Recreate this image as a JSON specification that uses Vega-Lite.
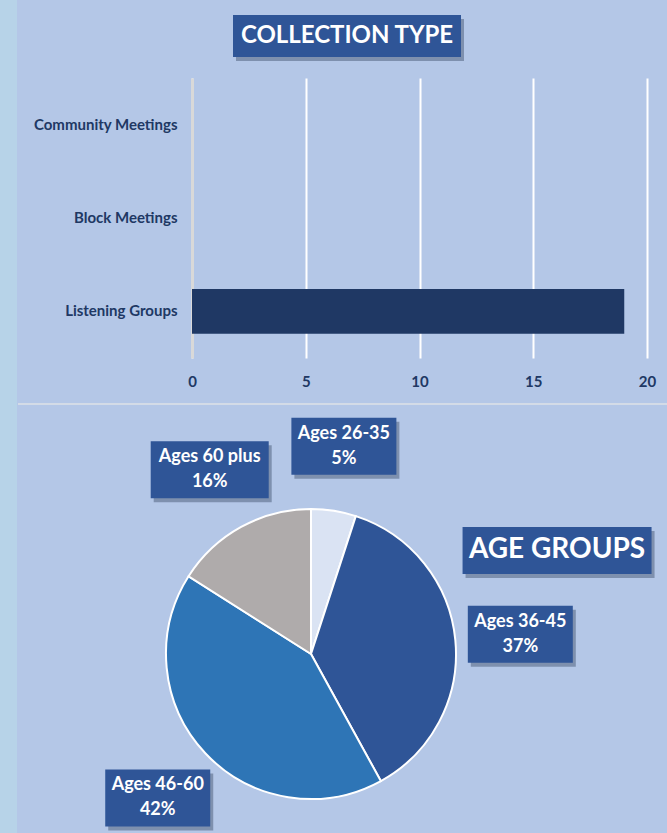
{
  "$schema": "https://vega.github.io/schema/vega-lite/v6.json",
  "background": "#b4c7e7",
  "padding": 0,
  "spacing": 0,
  "config": {"view": {"stroke": null}, "font": "Lato"},
  "datasets": {
    "collection": [
      {"type": "Community Meetings", "count": 0},
      {"type": "Block Meetings", "count": 0},
      {"type": "Listening Groups", "count": 19}
    ],
    "ages": [
      {"age": "Ages 26-35", "pct": 5},
      {"age": "Ages 36-45", "pct": 37},
      {"age": "Ages 46-60", "pct": 42},
      {"age": "Ages 60 plus", "pct": 16}
    ]
  },
  "hconcat": [
    {
      "width": 17,
      "height": 833,
      "view": {"fill": "#b7d3e8", "stroke": null},
      "data": {"values": [{"k": 1}]},
      "mark": {"type": "text", "text": ""},
      "encoding": {}
    },
    {
      "spacing": 6,
      "vconcat": [
        {
          "width": 310,
          "height": 72,
          "data": {"values": [{"title": "COLLECTION TYPE"}]},
          "layer": [
            {
              "mark": {"type": "point", "shape": "M-1,-0.1842L1,-0.1842L1,0.1842L-1,0.1842Z", "size": 51984, "filled": true, "color": "#1a2a45", "opacity": 0.35, "strokeWidth": 0, "xOffset": 3, "yOffset": 4},
              "encoding": {}
            },
            {
              "mark": {"type": "point", "shape": "M-1,-0.1842L1,-0.1842L1,0.1842L-1,0.1842Z", "size": 51984, "filled": true, "color": "#2f5597", "opacity": 1, "strokeWidth": 0},
              "encoding": {}
            },
            {
              "mark": {"type": "text", "font": "Lato", "fontWeight": "bold", "fontSize": 24, "color": "white", "baseline": "middle", "align": "center"},
              "encoding": {"text": {"field": "title", "type": "nominal"}}
            }
          ]
        },
        {
          "width": 455,
          "height": 280,
          "data": {"name": "collection"},
          "mark": {"type": "bar", "color": "#1f3864"},
          "encoding": {
            "y": {
              "field": "type",
              "type": "nominal",
              "sort": ["Community Meetings", "Block Meetings", "Listening Groups"],
              "scale": {"paddingInner": 0.52, "paddingOuter": 0.26},
              "axis": {"title": null, "labelFont": "Lato", "labelFontWeight": "bold", "labelFontSize": 15, "labelColor": "#203864", "labelPadding": 15, "ticks": false, "domainColor": "#d9d9d9", "domainWidth": 3, "minExtent": 174, "maxExtent": 174, "labelLimit": 200}
            },
            "x": {
              "field": "count",
              "type": "quantitative",
              "scale": {"domain": [0, 20], "nice": false},
              "axis": {"title": null, "values": [0, 5, 10, 15, 20], "grid": true, "gridColor": "white", "gridWidth": 2, "domain": false, "ticks": false, "tickSize": 0, "labelPadding": 16, "labelFlush": false, "labelFont": "Lato", "labelFontWeight": "bold", "labelFontSize": 15, "labelColor": "#203864", "minExtent": 39, "maxExtent": 39}
            }
          }
        },
        {
          "width": 476,
          "height": 430,
          "layer": [
            {
              "data": {"values": [{"k": 1}]},
              "mark": {"type": "rule", "color": "#d3dbe7", "strokeWidth": 2},
              "encoding": {
                "x": {"datum": -2.0207, "type": "quantitative", "scale": {"domain": [-0.8207, 2.4621], "nice": false, "zero": false}, "axis": null},
                "x2": {"datum": 2.4621},
                "y": {"datum": 1.7241, "type": "quantitative", "scale": {"domain": [-1.2414, 1.7241], "nice": false, "zero": false}, "axis": null}
              }
            },
            {
              "data": {"name": "ages"},
              "mark": {"type": "arc", "radius": 145, "stroke": "white", "strokeWidth": 2},
              "encoding": {
                "theta": {"field": "pct", "type": "quantitative", "stack": true},
                "color": {"field": "age", "type": "nominal", "scale": {"domain": ["Ages 26-35", "Ages 36-45", "Ages 46-60", "Ages 60 plus"], "range": ["#dae3f3", "#2f5597", "#2e75b6", "#afabab"]}, "legend": null},
                "x": {"datum": 0, "type": "quantitative", "scale": {"domain": [-0.8207, 2.4621], "nice": false, "zero": false}, "axis": null},
                "y": {"datum": 0, "type": "quantitative", "scale": {"domain": [-1.2414, 1.7241], "nice": false, "zero": false}, "axis": null}
              }
            },
            {
              "data": {"name": "ages"},
              "transform": [
                {"window": [{"op": "sum", "field": "pct", "as": "cum"}], "sort": [{"field": "age", "order": "ascending"}]},
                {"joinaggregate": [{"op": "sum", "field": "pct", "as": "total"}]},
                {"calculate": "2*PI*(datum.cum - datum.pct/2)/datum.total", "as": "mid"},
                {"calculate": "1.45*sin(datum.mid)", "as": "lx"},
                {"calculate": "1.45*cos(datum.mid)", "as": "ly"},
                {"calculate": "datum.age + '\\n' + datum.pct + '%'", "as": "label"}
              ],
              "encoding": {
                "x": {"field": "lx", "type": "quantitative", "scale": {"domain": [-0.8207, 2.4621], "nice": false, "zero": false}, "axis": null},
                "y": {"field": "ly", "type": "quantitative", "scale": {"domain": [-1.2414, 1.7241], "nice": false, "zero": false}, "axis": null}
              },
              "layer": [
                {
                  "mark": {"type": "point", "filled": true, "color": "#1a2a45", "opacity": 0.35, "strokeWidth": 0, "xOffset": 3, "yOffset": 4},
                  "encoding": {
                    "shape": {"condition": {"test": "datum.age === 'Ages 60 plus'", "value": "M-1,-0.483L1,-0.483L1,0.483L-1,0.483Z"}, "value": "M-1,-0.543L1,-0.543L1,0.543L-1,0.543Z"},
                    "size": {"condition": {"test": "datum.age === 'Ages 60 plus'", "value": 13924}, "value": 11025}
                  }
                },
                {
                  "mark": {"type": "point", "filled": true, "color": "#2f5597", "opacity": 1, "strokeWidth": 0},
                  "encoding": {
                    "shape": {"condition": {"test": "datum.age === 'Ages 60 plus'", "value": "M-1,-0.483L1,-0.483L1,0.483L-1,0.483Z"}, "value": "M-1,-0.543L1,-0.543L1,0.543L-1,0.543Z"},
                    "size": {"condition": {"test": "datum.age === 'Ages 60 plus'", "value": 13924}, "value": 11025}
                  }
                },
                {
                  "mark": {"type": "text", "font": "Lato", "fontWeight": "bold", "fontSize": 18, "color": "white", "align": "center", "baseline": "middle", "lineBreak": "\n", "lineHeight": 25, "dy": -12.5},
                  "encoding": {"text": {"field": "label", "type": "nominal"}}
                }
              ]
            },
            {
              "data": {"values": [{"title": "AGE GROUPS"}]},
              "encoding": {
                "x": {"datum": 1.697, "type": "quantitative", "scale": {"domain": [-0.8207, 2.4621], "nice": false, "zero": false}, "axis": null},
                "y": {"datum": 0.714, "type": "quantitative", "scale": {"domain": [-1.2414, 1.7241], "nice": false, "zero": false}, "axis": null}
              },
              "layer": [
                {
                  "mark": {"type": "point", "shape": "M-1,-0.2487L1,-0.2487L1,0.2487L-1,0.2487Z", "size": 35721, "filled": true, "color": "#1a2a45", "opacity": 0.35, "strokeWidth": 0, "xOffset": 3, "yOffset": 4}
                },
                {
                  "mark": {"type": "point", "shape": "M-1,-0.2487L1,-0.2487L1,0.2487L-1,0.2487Z", "size": 35721, "filled": true, "color": "#2f5597", "opacity": 1, "strokeWidth": 0}
                },
                {
                  "mark": {"type": "text", "font": "Lato", "fontWeight": "bold", "fontSize": 28, "color": "white", "align": "center", "baseline": "middle"},
                  "encoding": {"text": {"field": "title", "type": "nominal"}}
                }
              ]
            }
          ]
        }
      ]
    }
  ]
}
